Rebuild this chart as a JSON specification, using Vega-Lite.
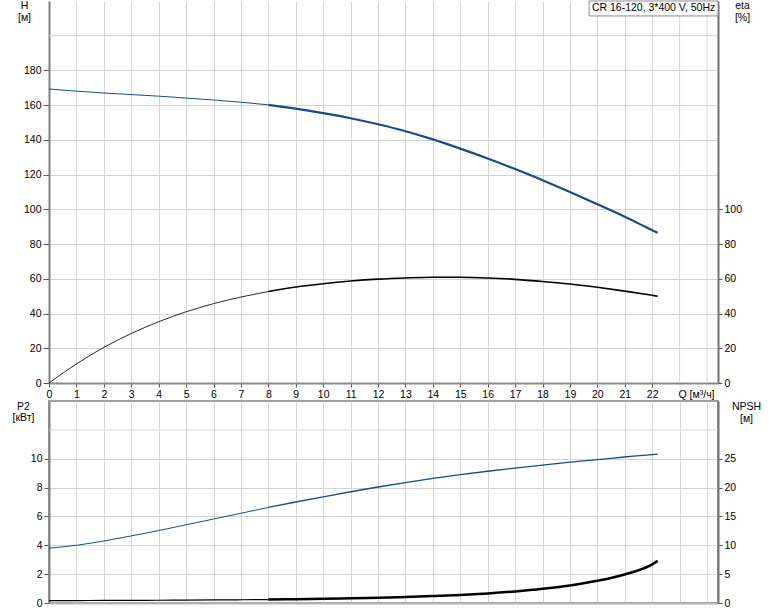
{
  "$schema": "https://vega.github.io/schema/vega-lite/v6.json",
  "padding": {"left": 11, "top": 0, "right": 5, "bottom": 5},
  "background": "white",
  "spacing": 18,
  "bounds": "flush",
  "config": {
    "view": {"stroke": null},
    "axis": {
      "labelFont": "Liberation Sans", "labelFontSize": 10.5, "labelColor": "#000",
      "titleFont": "Liberation Sans", "titleFontSize": 10.5, "titleFontWeight": "normal", "titleColor": "#000",
      "tickColor": "#555", "tickSize": 5, "labelPadding": 2,
      "gridColor": "#d4d4d4", "gridWidth": 1,
      "domainColor": "#808080", "domainWidth": 2,
      "labelFlush": false, "labelOverlap": false
    },
    "rule": {"color": "#d4d4d4", "strokeWidth": 1},
    "line": {"interpolate": "monotone"}
  },
  "datasets": {
    "pump": [
      {"Q": 0, "H": 169.3, "eta": 0, "P2": 3.80, "NPSH": 0.40},
      {"Q": 1, "H": 168.1, "eta": 11.0, "P2": 4.00, "NPSH": 0.42},
      {"Q": 2, "H": 167.0, "eta": 20.5, "P2": 4.30, "NPSH": 0.44},
      {"Q": 3, "H": 166.1, "eta": 28.5, "P2": 4.65, "NPSH": 0.46},
      {"Q": 4, "H": 165.2, "eta": 35.3, "P2": 5.02, "NPSH": 0.48},
      {"Q": 5, "H": 164.1, "eta": 41.0, "P2": 5.42, "NPSH": 0.50},
      {"Q": 6, "H": 163.0, "eta": 45.7, "P2": 5.82, "NPSH": 0.53},
      {"Q": 7, "H": 161.7, "eta": 49.5, "P2": 6.22, "NPSH": 0.56},
      {"Q": 8, "H": 160.2, "eta": 52.7, "P2": 6.62, "NPSH": 0.60},
      {"Q": 9, "H": 158.0, "eta": 55.3, "P2": 7.00, "NPSH": 0.66},
      {"Q": 10, "H": 155.4, "eta": 57.2, "P2": 7.36, "NPSH": 0.74},
      {"Q": 11, "H": 152.5, "eta": 58.7, "P2": 7.71, "NPSH": 0.82},
      {"Q": 12, "H": 149.0, "eta": 59.8, "P2": 8.04, "NPSH": 0.92},
      {"Q": 13, "H": 145.0, "eta": 60.5, "P2": 8.35, "NPSH": 1.04},
      {"Q": 14, "H": 140.3, "eta": 60.9, "P2": 8.63, "NPSH": 1.20},
      {"Q": 15, "H": 135.0, "eta": 60.9, "P2": 8.89, "NPSH": 1.40},
      {"Q": 16, "H": 129.3, "eta": 60.5, "P2": 9.13, "NPSH": 1.66},
      {"Q": 17, "H": 123.2, "eta": 59.7, "P2": 9.35, "NPSH": 2.00},
      {"Q": 18, "H": 116.8, "eta": 58.5, "P2": 9.56, "NPSH": 2.45},
      {"Q": 19, "H": 110.0, "eta": 57.0, "P2": 9.76, "NPSH": 3.05},
      {"Q": 20, "H": 103.0, "eta": 55.1, "P2": 9.94, "NPSH": 3.85},
      {"Q": 21, "H": 95.8, "eta": 52.9, "P2": 10.12, "NPSH": 4.95},
      {"Q": 22, "H": 88.0, "eta": 50.5, "P2": 10.29, "NPSH": 6.70},
      {"Q": 22.2, "H": 86.5, "eta": 50.0, "P2": 10.32, "NPSH": 7.30}
    ]
  },
  "vconcat": [
    {
      "width": 669,
      "height": 382,
      "layer": [
        {
          "layer": [
            {
              "data": {"name": "pump"},
              "transform": [{"filter": "datum.Q <= 8"}],
              "mark": {"type": "line", "color": "#164c8c", "strokeWidth": 1},
              "encoding": {
                "x": {
                  "field": "Q", "type": "quantitative",
                  "scale": {"domain": [0, 24.4], "nice": false, "zero": false},
                  "axis": {
                    "orient": "bottom", "grid": true, "labelOverlap": false, "tickCount": 40, "format": "d",
                    "values": [0,1,2,3,4,5,6,7,8,9,10,11,12,13,14,15,16,17,18,19,20,21,22],
                    "title": "Q [м³/ч]", "titleX": 629, "titleY": 6,
                    "titleAlign": "left", "titleBaseline": "top", "titleAnchor": null,
                    "tickSize": 4, "labelPadding": 2, "domainColor": "#8a8a8a"
                  }
                },
                "y": {
                  "field": "H", "type": "quantitative",
                  "scale": {"domain": [0, 220], "nice": false},
                  "axis": {
                    "orient": "left", "grid": true, "labelOverlap": false, "tickCount": 40, "format": "d",
                    "values": [0,20,40,60,80,100,120,140,160,180],
                    "title": ["H", "[м]"], "titleAngle": 0, "titleX": -25, "titleY": -1,
                    "titleAlign": "center", "titleBaseline": "top", "titleLineHeight": 12,
                    "tickSize": 6
                  }
                }
              }
            },
            {
              "data": {"values": [{}]},
              "mark": {"type": "rule"},
              "encoding": {
                "y": {"datum": 200, "type": "quantitative", "scale": {"domain": [0, 220], "nice": false}}
              }
            },
            {
              "data": {"values": [{}]},
              "mark": {"type": "rule"},
              "encoding": {
                "x": {"datum": 23, "type": "quantitative", "scale": {"domain": [0, 24.4], "nice": false, "zero": false}}
              }
            },
            {
              "data": {"values": [{}]},
              "mark": {"type": "rule"},
              "encoding": {
                "x": {"datum": 24, "type": "quantitative", "scale": {"domain": [0, 24.4], "nice": false, "zero": false}}
              }
            },
            {
              "data": {"name": "pump"},
              "transform": [{"filter": "datum.Q >= 8"}],
              "mark": {"type": "line", "color": "#164c8c", "strokeWidth": 2.2},
              "encoding": {
                "x": {"field": "Q", "type": "quantitative", "scale": {"domain": [0, 24.4], "nice": false, "zero": false}},
                "y": {"field": "H", "type": "quantitative", "scale": {"domain": [0, 220], "nice": false}}
              }
            },
            {
              "data": {"values": [{}]},
              "mark": {"type": "rect", "fill": "white", "stroke": "#8c8c8c", "strokeWidth": 1},
              "encoding": {
                "x": {"datum": 19.7, "type": "quantitative", "scale": {"domain": [0, 24.4], "nice": false, "zero": false}},
                "x2": {"datum": 24.4},
                "y": {"datum": 220, "type": "quantitative", "scale": {"domain": [0, 220], "nice": false}},
                "y2": {"datum": 211.4}
              }
            },
            {
              "data": {"values": [{}]},
              "mark": {"type": "text", "font": "Liberation Sans", "fontSize": 10.5, "color": "#000", "align": "center", "baseline": "middle"},
              "encoding": {
                "x": {"datum": 22.05, "type": "quantitative", "scale": {"domain": [0, 24.4], "nice": false, "zero": false}},
                "y": {"datum": 215.7, "type": "quantitative", "scale": {"domain": [0, 220], "nice": false}},
                "text": {"value": "CR 16-120, 3*400 V, 50Hz"}
              }
            }
          ]
        },
        {
          "layer": [
            {
              "data": {"name": "pump"},
              "transform": [{"filter": "datum.Q <= 8"}],
              "mark": {"type": "line", "color": "#111", "strokeWidth": 0.9},
              "encoding": {
                "x": {"field": "Q", "type": "quantitative", "scale": {"domain": [0, 24.4], "nice": false, "zero": false}},
                "y": {
                  "field": "eta", "type": "quantitative",
                  "scale": {"domain": [0, 220], "nice": false},
                  "axis": {
                    "orient": "right", "grid": false, "labelOverlap": false, "tickCount": 40, "format": "d",
                    "values": [0,20,40,60,80,100],
                    "title": ["eta", "[%]"], "titleAngle": 0, "titleX": 24, "titleY": -1,
                    "titleAlign": "center", "titleBaseline": "top", "titleLineHeight": 12,
                    "tickSize": 4, "domainColor": "#707070"
                  }
                }
              }
            },
            {
              "data": {"name": "pump"},
              "transform": [{"filter": "datum.Q >= 8"}],
              "mark": {"type": "line", "color": "#000", "strokeWidth": 1.6},
              "encoding": {
                "x": {"field": "Q", "type": "quantitative", "scale": {"domain": [0, 24.4], "nice": false, "zero": false}},
                "y": {"field": "eta", "type": "quantitative", "scale": {"domain": [0, 220], "nice": false}}
              }
            }
          ]
        }
      ],
      "resolve": {"scale": {"y": "independent"}}
    },
    {
      "width": 669,
      "height": 202,
      "view": {"stroke": "#a0a0a0", "strokeWidth": 2},
      "layer": [
        {
          "layer": [
            {
              "data": {"name": "pump"},
              "transform": [{"filter": "datum.Q <= 8"}],
              "mark": {"type": "line", "color": "#164c8c", "strokeWidth": 1},
              "encoding": {
                "x": {
                  "field": "Q", "type": "quantitative",
                  "scale": {"domain": [0, 24.4], "nice": false, "zero": false},
                  "axis": {
                    "orient": "bottom", "title": null, "grid": true, "labels": false, "ticks": false, "tickCount": 40,
                    "values": [0,1,2,3,4,5,6,7,8,9,10,11,12,13,14,15,16,17,18,19,20,21,22,23,24],
                    "domainColor": "#b4b4b4"
                  }
                },
                "y": {
                  "field": "P2", "type": "quantitative",
                  "scale": {"domain": [0, 14], "nice": false},
                  "axis": {
                    "orient": "left", "grid": true, "labelOverlap": false, "tickCount": 40, "format": "d",
                    "values": [0,2,4,6,8,10],
                    "title": ["P2", "[кВт]"], "titleAngle": 0, "titleX": -26, "titleY": 0,
                    "titleAlign": "center", "titleBaseline": "top", "titleLineHeight": 11,
                    "tickSize": 5
                  }
                }
              }
            },
            {
              "data": {"values": [{}]},
              "mark": {"type": "rule"},
              "encoding": {
                "y": {"datum": 12, "type": "quantitative", "scale": {"domain": [0, 14], "nice": false}}
              }
            },
            {
              "data": {"name": "pump"},
              "transform": [{"filter": "datum.Q >= 8"}],
              "mark": {"type": "line", "color": "#164c8c", "strokeWidth": 1.3},
              "encoding": {
                "x": {"field": "Q", "type": "quantitative", "scale": {"domain": [0, 24.4], "nice": false, "zero": false}},
                "y": {"field": "P2", "type": "quantitative", "scale": {"domain": [0, 14], "nice": false}}
              }
            }
          ]
        },
        {
          "layer": [
            {
              "data": {"name": "pump"},
              "transform": [{"filter": "datum.Q <= 8"}],
              "mark": {"type": "line", "color": "#000", "strokeWidth": 1.2},
              "encoding": {
                "x": {"field": "Q", "type": "quantitative", "scale": {"domain": [0, 24.4], "nice": false, "zero": false}},
                "y": {
                  "field": "NPSH", "type": "quantitative",
                  "scale": {"domain": [0, 35], "nice": false},
                  "axis": {
                    "orient": "right", "grid": false, "labelOverlap": false, "tickCount": 40, "format": "d",
                    "values": [0,5,10,15,20,25],
                    "title": ["NPSH", "[м]"], "titleAngle": 0, "titleX": 28, "titleY": 0,
                    "titleAlign": "center", "titleBaseline": "top", "titleLineHeight": 12,
                    "tickSize": 4, "domainColor": "#707070"
                  }
                }
              }
            },
            {
              "data": {"name": "pump"},
              "transform": [{"filter": "datum.Q >= 8"}],
              "mark": {"type": "line", "color": "#000", "strokeWidth": 2.5},
              "encoding": {
                "x": {"field": "Q", "type": "quantitative", "scale": {"domain": [0, 24.4], "nice": false, "zero": false}},
                "y": {"field": "NPSH", "type": "quantitative", "scale": {"domain": [0, 35], "nice": false}}
              }
            }
          ]
        }
      ],
      "resolve": {"scale": {"y": "independent"}}
    }
  ]
}
